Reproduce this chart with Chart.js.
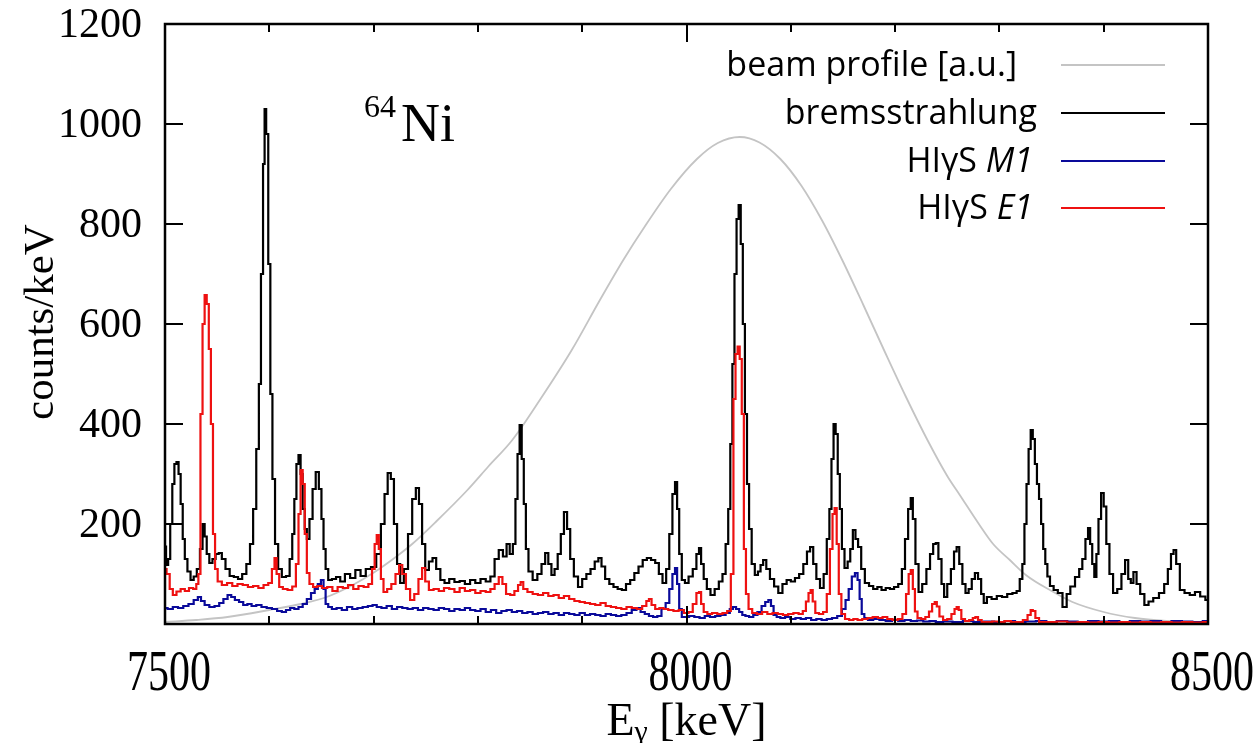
<!DOCTYPE html>
<html><head><meta charset="utf-8">
<script src="https://cdn.jsdelivr.net/npm/chart.js@4.4.1/dist/chart.umd.min.js"></script>
<style>html,body{margin:0;padding:0;background:#fff;}#wrap{width:1258px;height:743px;}</style>
</head><body><div id="wrap"><canvas id="c" width="1258" height="743"></canvas></div>
<script>
const xRange = [7500, 8500];
const yRange = [0, 1200];
const xMajorTicks = [7500, 8000, 8500];
const xMinorTicks = [7600, 7700, 7800, 7900, 8100, 8200, 8300, 8400];
const yTicks = [200, 400, 600, 800, 1000, 1200];
const legendLabels = [
  ['beam profile [a.u.]', ''],
  ['bremsstrahlung', ''],
  ['HIγS ', 'M1'],
  ['HIγS ', 'E1']
];
const seriesColors = ['#c4c4c4', '#000000', '#0a0a9a', '#ee1111'];

// bremsstrahlung spectrum: [E (keV), counts/keV]
const bremsstrahlung = [
[7500,155],[7502,118],[7504,130],[7506,200],[7508,280],[7510,320],[7512,324],[7514,300],[7516,240],[7518,170],
[7520,130],[7523,105],[7526,88],[7529,95],[7532,110],[7535,150],[7537,200],[7539,175],[7541,140],[7544,122],
[7547,130],[7550,140],[7553,142],[7556,130],[7560,110],[7564,96],[7568,94],[7572,90],[7576,100],[7580,120],
[7583,160],[7586,230],[7589,350],[7591,480],[7593,700],[7595,920],[7596,1030],[7598,980],[7600,720],[7602,460],
[7604,290],[7607,160],[7610,110],[7614,94],[7618,96],[7621,130],[7623,180],[7625,250],[7627,320],[7629,338],
[7631,300],[7633,230],[7635,190],[7637,170],[7640,210],[7643,270],[7646,304],[7649,270],[7651,210],[7653,150],
[7655,110],[7658,88],[7662,90],[7666,94],[7670,85],[7675,100],[7680,92],[7685,108],[7690,96],[7695,110],
[7700,114],[7705,140],[7709,200],[7712,260],[7715,302],[7718,290],[7721,200],[7724,120],[7727,82],[7731,110],
[7735,180],[7739,250],[7742,272],[7745,240],[7748,160],[7751,108],[7755,125],[7758,132],[7762,110],[7766,88],
[7770,82],[7775,90],[7780,84],[7785,86],[7790,80],[7795,88],[7800,82],[7805,90],[7810,85],[7814,95],
[7818,130],[7822,148],[7826,135],[7829,160],[7832,140],[7835,160],[7837,250],[7839,340],[7841,398],[7843,330],
[7845,240],[7847,150],[7850,105],[7855,88],[7859,100],[7863,120],[7866,142],[7869,120],[7872,98],[7875,110],
[7878,140],[7881,180],[7884,224],[7887,190],[7890,130],[7894,95],[7898,74],[7902,90],[7906,100],[7910,110],
[7914,125],[7917,132],[7920,115],[7924,90],[7928,80],[7932,74],[7936,70],[7940,68],[7944,80],[7948,88],
[7952,102],[7956,115],[7960,128],[7964,132],[7968,128],[7972,122],[7975,100],[7979,82],[7982,110],[7985,180],
[7988,260],[7990,284],[7992,230],[7994,140],[7997,88],[8000,82],[8004,95],[8008,110],[8011,140],[8013,152],
[8015,120],[8018,90],[8021,70],[8025,58],[8029,70],[8033,85],[8036,100],[8039,160],[8041,230],[8043,360],
[8045,520],[8047,700],[8049,810],[8051,838],[8053,760],[8055,600],[8057,420],[8059,280],[8061,190],[8064,120],
[8067,98],[8070,105],[8072,118],[8075,128],[8078,110],[8082,90],[8086,75],[8090,62],[8094,80],[8098,88],
[8102,85],[8106,92],[8110,100],[8114,120],[8117,145],[8120,154],[8123,120],[8126,90],[8130,72],[8133,100],
[8136,170],[8138,230],[8140,330],[8142,400],[8144,380],[8146,300],[8148,230],[8150,150],[8153,112],[8156,125],
[8158,150],[8161,188],[8163,170],[8166,154],[8169,110],[8173,82],[8177,76],[8181,70],[8185,74],[8189,68],
[8193,72],[8197,70],[8201,74],[8205,80],[8208,110],[8211,170],[8214,230],[8216,252],[8218,210],[8221,120],
[8224,64],[8228,80],[8232,110],[8235,140],[8238,160],[8240,162],[8243,130],[8246,80],[8248,54],[8252,80],
[8255,110],[8258,145],[8260,154],[8263,120],[8266,80],[8269,62],[8272,70],[8275,90],[8278,102],[8281,90],
[8284,60],[8286,42],[8290,54],[8295,50],[8300,56],[8305,54],[8310,60],[8315,62],[8318,66],[8321,90],
[8323,120],[8325,200],[8327,280],[8329,350],[8331,388],[8333,370],[8335,320],[8337,280],[8339,250],[8341,200],
[8343,150],[8345,120],[8347,95],[8350,76],[8354,68],[8358,62],[8363,34],[8366,60],[8370,75],[8375,94],
[8378,110],[8381,130],[8384,170],[8386,192],[8388,160],[8390,120],[8392,94],[8394,140],[8396,210],[8399,262],
[8401,235],[8404,160],[8407,100],[8411,62],[8415,70],[8419,100],[8422,128],[8425,90],[8427,82],[8430,104],
[8433,80],[8437,60],[8441,38],[8445,45],[8450,52],[8456,62],[8460,80],[8463,110],[8466,140],[8468,148],
[8471,120],[8475,68],[8480,62],[8485,58],[8490,64],[8495,55],[8500,48]
];

// HIgS E1 spectrum
const higsE1 = [
[7500,110],[7503,100],[7506,70],[7509,58],[7513,65],[7517,70],[7521,66],[7525,72],[7529,70],[7531,80],
[7533,100],[7535,420],[7537,600],[7539,658],[7541,640],[7543,550],[7545,400],[7547,180],[7549,110],[7552,85],
[7557,78],[7562,82],[7567,76],[7572,80],[7577,78],[7582,74],[7587,76],[7592,72],[7597,78],[7601,82],
[7604,110],[7606,132],[7608,100],[7611,74],[7615,70],[7620,68],[7624,75],[7627,120],[7629,220],[7631,308],
[7633,280],[7635,180],[7637,102],[7640,80],[7644,74],[7648,76],[7653,72],[7658,74],[7663,66],[7668,74],
[7673,72],[7678,78],[7683,70],[7688,76],[7693,74],[7697,80],[7700,110],[7702,160],[7704,178],[7706,150],
[7708,90],[7711,64],[7715,70],[7719,80],[7723,100],[7726,118],[7729,100],[7733,70],[7737,48],[7741,60],
[7745,90],[7748,112],[7751,85],[7755,68],[7760,70],[7765,66],[7770,72],[7775,70],[7780,64],[7785,72],
[7790,66],[7795,68],[7800,62],[7805,66],[7810,64],[7814,70],[7818,80],[7822,94],[7825,80],[7829,60],
[7833,58],[7837,66],[7840,78],[7842,84],[7845,70],[7850,64],[7855,60],[7860,58],[7865,62],[7870,56],
[7875,58],[7880,52],[7885,56],[7890,50],[7895,46],[7900,44],[7905,42],[7910,40],[7915,38],[7920,42],
[7925,36],[7930,34],[7935,32],[7940,30],[7945,34],[7950,32],[7955,30],[7960,36],[7963,46],[7965,50],
[7968,38],[7972,30],[7976,32],[7980,30],[7985,28],[7990,26],[7995,28],[8000,22],[8004,24],[8008,40],
[8011,62],[8013,64],[8015,40],[8018,24],[8022,20],[8027,22],[8032,20],[8037,22],[8041,26],[8044,100],
[8046,450],[8048,540],[8050,555],[8052,530],[8054,420],[8056,150],[8058,60],[8061,30],[8065,22],[8070,20],
[8075,24],[8080,20],[8085,22],[8090,20],[8095,18],[8100,20],[8105,22],[8110,20],[8113,26],[8116,45],
[8118,62],[8120,68],[8122,45],[8125,22],[8129,20],[8133,24],[8136,60],[8139,150],[8141,220],[8143,232],
[8145,160],[8147,60],[8150,20],[8154,10],[8158,8],[8162,10],[8166,8],[8171,10],[8176,12],[8181,14],
[8186,12],[8190,14],[8195,10],[8200,8],[8205,10],[8209,20],[8212,60],[8214,100],[8216,108],[8218,70],
[8220,25],[8223,12],[8227,10],[8231,14],[8234,25],[8237,40],[8239,44],[8241,35],[8244,15],[8248,8],
[8252,10],[8256,20],[8258,30],[8260,34],[8262,28],[8265,10],[8269,6],[8273,8],[8276,12],[8278,14],
[8281,8],[8285,4],[8290,4],[8296,5],[8302,4],[8308,6],[8314,4],[8320,4],[8325,8],[8329,18],
[8331,28],[8333,26],[8336,12],[8340,4],[8350,4],[8360,5],[8370,3],[8380,4],[8390,3],[8400,4],
[8410,3],[8420,4],[8430,3],[8440,4],[8450,3],[8460,4],[8470,3],[8480,4],[8490,3],[8500,4]
];

// HIgS M1 spectrum
const higsM1 = [
[7500,32],[7505,30],[7510,34],[7515,32],[7520,36],[7525,40],[7530,48],[7533,54],[7536,46],[7540,38],
[7545,34],[7550,36],[7554,42],[7558,50],[7562,58],[7565,54],[7569,48],[7573,44],[7577,38],[7581,40],
[7585,36],[7590,38],[7595,34],[7600,32],[7605,30],[7610,26],[7614,24],[7618,28],[7622,32],[7626,30],
[7630,34],[7634,40],[7638,50],[7642,62],[7645,70],[7648,80],[7651,88],[7653,70],[7655,40],[7658,34],
[7662,30],[7667,32],[7672,28],[7677,34],[7682,30],[7687,32],[7692,34],[7697,36],[7701,38],[7705,34],
[7710,32],[7715,36],[7720,30],[7725,34],[7730,32],[7735,30],[7740,32],[7745,28],[7750,32],[7755,30],
[7760,28],[7765,32],[7770,30],[7775,26],[7780,30],[7785,28],[7790,32],[7795,28],[7800,26],[7805,30],
[7810,24],[7815,28],[7820,22],[7825,26],[7830,28],[7835,24],[7840,26],[7845,22],[7850,24],[7855,20],
[7860,22],[7865,24],[7870,20],[7875,22],[7880,18],[7885,22],[7890,20],[7895,18],[7900,22],[7905,18],
[7910,20],[7915,18],[7920,16],[7925,20],[7930,18],[7935,16],[7940,18],[7945,22],[7950,28],[7954,32],
[7958,24],[7962,20],[7966,16],[7970,14],[7974,16],[7978,30],[7982,42],[7985,70],[7988,100],[7990,112],
[7992,80],[7994,30],[7997,14],[8000,14],[8005,16],[8010,14],[8015,12],[8020,16],[8025,14],[8030,16],
[8035,18],[8040,22],[8043,30],[8046,34],[8049,30],[8052,24],[8055,18],[8058,16],[8062,14],[8066,18],
[8070,24],[8074,36],[8077,44],[8080,48],[8082,36],[8085,18],[8088,14],[8092,12],[8097,14],[8102,10],
[8107,12],[8112,10],[8117,12],[8122,8],[8127,10],[8132,8],[8137,10],[8142,12],[8147,16],[8151,30],
[8154,48],[8157,70],[8160,95],[8163,102],[8165,88],[8167,50],[8169,20],[8172,12],[8176,8],[8182,10],
[8188,8],[8194,6],[8200,8],[8206,6],[8212,8],[8218,6],[8224,7],[8230,5],[8236,6],[8242,4],
[8250,5],[8260,4],[8270,6],[8280,4],[8290,5],[8300,4],[8310,6],[8320,4],[8330,5],[8340,6],
[8350,4],[8360,6],[8370,5],[8380,4],[8390,6],[8400,5],[8410,6],[8420,4],[8430,6],[8440,5],
[8450,6],[8460,4],[8470,6],[8480,5],[8490,4],[8500,6]
];

// beam profile [a.u.]
const beamProfile = [
[7500,4],[7530,8],[7560,14],[7600,28],[7630,40],[7655,54],[7680,78],[7701,104],[7720,132],[7737,160],
[7760,205],[7790,268],[7810,315],[7833,368],[7860,450],[7890,548],[7917,648],[7940,730],[7960,795],[7985,870],
[8010,930],[8030,962],[8051,974],[8070,963],[8090,930],[8110,877],[8130,807],[8150,725],[8170,636],[8190,545],
[8210,456],[8231,368],[8250,296],[8262,258],[8280,201],[8294,160],[8310,128],[8326,97],[8350,66],[8370,44],
[8400,24],[8430,12],[8460,6],[8500,2]
];

const toXY = arr => arr.map(p => ({x: p[0], y: p[1]}));
const SERIF = '"Liberation Serif", "DejaVu Serif", serif';
const SANS = '"Open Sans", "Noto Sans", sans-serif';

const deco = {
  id: 'deco',
  afterDatasetsDraw(chart) {
    const {ctx, chartArea: a, scales: {x, y}} = chart;
    ctx.save();
    ctx.strokeStyle = '#000';
    ctx.lineWidth = 2;
    ctx.beginPath();
    for (const v of yTicks) {
      const py = Math.round(y.getPixelForValue(v));
      ctx.moveTo(a.left, py); ctx.lineTo(a.left + 18, py);
      ctx.moveTo(a.right, py); ctx.lineTo(a.right - 18, py);
    }
    for (const v of xMinorTicks) {
      const px = Math.round(x.getPixelForValue(v));
      ctx.moveTo(px, a.bottom); ctx.lineTo(px, a.bottom - 8);
      ctx.moveTo(px, a.top); ctx.lineTo(px, a.top + 8);
    }
    for (const v of xMajorTicks) {
      const px = Math.round(x.getPixelForValue(v));
      ctx.moveTo(px, a.bottom); ctx.lineTo(px, a.bottom - 18);
      ctx.moveTo(px, a.top); ctx.lineTo(px, a.top + 18);
    }
    ctx.stroke();
    ctx.lineWidth = 2.5;
    ctx.strokeRect(a.left, a.top, a.right - a.left, a.bottom - a.top);

    // tick labels
    ctx.fillStyle = '#000';
    ctx.font = '42px ' + SERIF;
    ctx.textAlign = 'right';
    ctx.textBaseline = 'middle';
    for (const v of yTicks) {
      ctx.fillText(String(v), 142, y.getPixelForValue(v) + 2);
    }
    ctx.textAlign = 'center';
    ctx.textBaseline = 'alphabetic';
    for (const v of xMajorTicks) {
      const px = x.getPixelForValue(v) + 4;
      ctx.save();
      ctx.translate(px, 690);
      ctx.scale(1, 1.35);
      ctx.fillText(String(v), 0, 0);
      ctx.restore();
    }

    // legend
    const rowY = [65, 113, 161, 208];
    const rightX = [1017, 1037, 1033, 1033];
    ctx.textBaseline = 'middle';
    legendLabels.forEach((lab, i) => {
      ctx.font = '34px ' + SANS;
      const w1 = ctx.measureText(lab[0]).width;
      ctx.font = 'italic 34px ' + SANS;
      const w2 = lab[1] ? ctx.measureText(lab[1]).width : 0;
      const sx = rightX[i] - w1 - w2;
      ctx.fillStyle = '#000';
      ctx.textAlign = 'left';
      ctx.font = '34px ' + SANS;
      ctx.fillText(lab[0], sx, rowY[i] + 1);
      if (lab[1]) { ctx.font = 'italic 34px ' + SANS; ctx.fillText(lab[1], sx + w1, rowY[i] + 1); }
      ctx.strokeStyle = seriesColors[i];
      ctx.lineWidth = 2;
      ctx.beginPath(); ctx.moveTo(1061, rowY[i]); ctx.lineTo(1165, rowY[i]); ctx.stroke();
    });

    // 64Ni label
    ctx.fillStyle = '#000';
    ctx.textBaseline = 'alphabetic';
    ctx.textAlign = 'left';
    ctx.font = '32px ' + SERIF;
    ctx.fillText('64', 364, 117);
    ctx.font = '54px ' + SERIF;
    ctx.fillText('Ni', 401, 141);

    // axis titles
    ctx.font = '43px ' + SERIF;
    ctx.save();
    ctx.translate(42, 322);
    ctx.rotate(-Math.PI / 2);
    ctx.textAlign = 'center';
    ctx.textBaseline = 'middle';
    ctx.fillText('counts/keV', 0, 0);
    ctx.restore();

    const cx = (a.left + a.right) / 2;
    ctx.font = '46px ' + SERIF;
    const wE = ctx.measureText('E').width;
    const wK = ctx.measureText(' [keV]').width;
    ctx.font = '30px ' + SERIF;
    const wG = ctx.measureText('γ').width;
    const sx = cx - (wE + wG + wK) / 2;
    ctx.font = '46px ' + SERIF;
    ctx.fillText('E', sx, 735);
    ctx.font = '30px ' + SERIF;
    ctx.fillText('γ', sx + wE, 741);
    ctx.font = '46px ' + SERIF;
    ctx.fillText(' [keV]', sx + wE + wG, 735);
    ctx.restore();
  }
};

const common = {pointRadius: 0, borderWidth: 2.2, fill: false, stepped: 'middle', borderJoinStyle: 'miter'};
new Chart(document.getElementById('c'), {
  type: 'line',
  data: {
    datasets: [
      Object.assign({label: 'HIγS E1', data: toXY(higsE1), borderColor: seriesColors[3], order: 0}, common),
      Object.assign({label: 'HIγS M1', data: toXY(higsM1), borderColor: seriesColors[2], order: 1}, common),
      Object.assign({label: 'bremsstrahlung', data: toXY(bremsstrahlung), borderColor: seriesColors[1], order: 2}, common),
      {label: 'beam profile [a.u.]', data: toXY(beamProfile), borderColor: seriesColors[0], borderWidth: 1.8,
       pointRadius: 0, fill: false, cubicInterpolationMode: 'monotone', order: 3}
    ]
  },
  options: {
    responsive: false,
    animation: false,
    devicePixelRatio: 1,
    layout: {padding: {left: 0, right: 50, top: 24, bottom: 0}},
    plugins: {legend: {display: false}, tooltip: {enabled: false}},
    scales: {
      x: {
        type: 'linear', min: xRange[0], max: xRange[1],
        grid: {display: false, drawTicks: false},
        border: {display: false},
        ticks: {display: false, stepSize: 500},
        afterFit: s => { s.height = 119; }
      },
      y: {
        min: yRange[0], max: yRange[1],
        grid: {display: false, drawTicks: false},
        border: {display: false},
        ticks: {display: false, stepSize: 200},
        afterFit: s => { s.width = 165; }
      }
    }
  },
  plugins: [deco]
});
</script>
</body></html>
